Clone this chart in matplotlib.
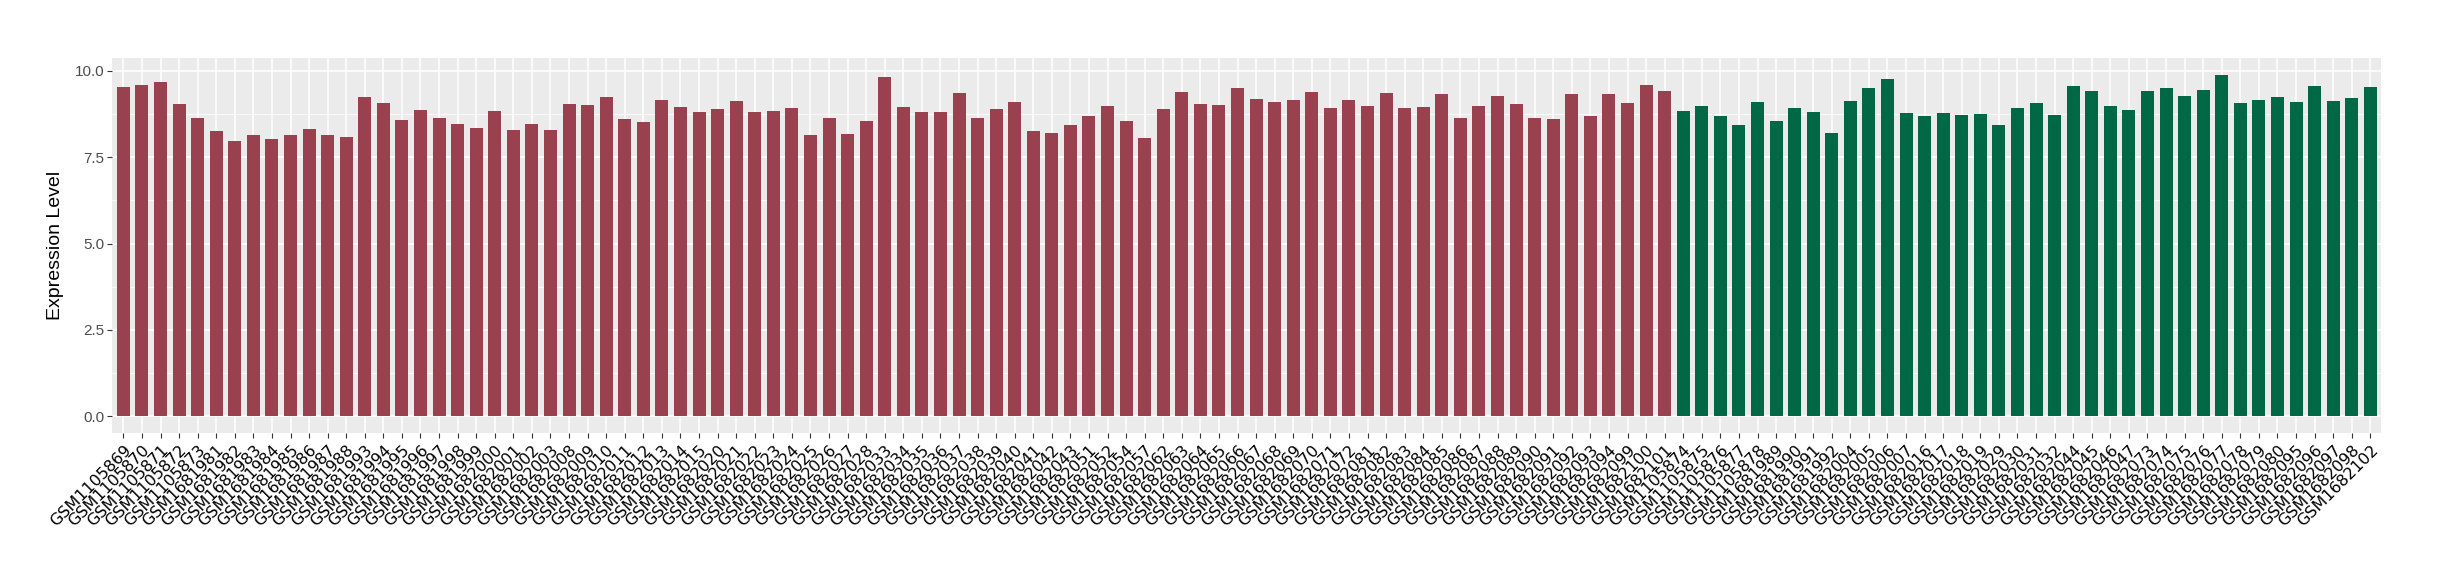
import matplotlib
matplotlib.use("Agg")
import matplotlib.pyplot as plt
import numpy as np

# sample ids, group 1 (red) then group 2 (green)
red_ids = (["GSM11058%d" % i for i in range(69, 74)]
           + ["GSM16819%d" % i for i in range(81, 89)]
           + ["GSM16819%d" % i for i in range(93, 100)]
           + ["GSM16820%02d" % i for i in range(0, 4)]
           + ["GSM16820%02d" % i for i in range(8, 16)]
           + ["GSM16820%02d" % i for i in range(20, 29)]
           + ["GSM16820%02d" % i for i in range(33, 44)]
           + ["GSM1682051", "GSM1682052", "GSM1682054", "GSM1682057"]
           + ["GSM16820%02d" % i for i in range(62, 73)]
           + ["GSM16820%02d" % i for i in range(81, 95)]
           + ["GSM1682099", "GSM1682100", "GSM1682101"])
green_ids = (["GSM11058%d" % i for i in range(74, 79)]
             + ["GSM16819%d" % i for i in range(89, 93)]
             + ["GSM16820%02d" % i for i in range(4, 8)]
             + ["GSM16820%02d" % i for i in range(16, 20)]
             + ["GSM16820%02d" % i for i in range(29, 33)]
             + ["GSM16820%02d" % i for i in range(44, 48)]
             + ["GSM16820%02d" % i for i in range(73, 81)]
             + ["GSM16820%02d" % i for i in range(95, 99)]
             + ["GSM1682102"])

red_vals = [9.54, 9.60, 9.68, 9.05, 8.64, 8.27, 7.98, 8.13, 8.04, 8.13,
            8.33, 8.15, 8.10, 9.25, 9.08, 8.59, 8.88, 8.64, 8.47, 8.36,
            8.85, 8.30, 8.47, 8.30, 9.05, 9.02, 9.25, 8.62, 8.53, 9.16,
            8.96, 8.82, 8.90, 9.13, 8.82, 8.85, 8.93, 8.13, 8.64, 8.18,
            8.56, 9.83, 8.96, 8.82, 8.82, 9.37, 8.64, 8.90, 9.11, 8.27,
            8.21, 8.44, 8.70, 8.99, 8.56, 8.07, 8.90, 9.39, 9.05, 9.02,
            9.51, 9.19, 9.11, 9.16, 9.39, 8.93, 9.16, 8.99, 9.37, 8.93,
            8.96, 9.34, 8.64, 8.99, 9.28, 9.05, 8.64, 8.62, 9.34, 8.70,
            9.34, 9.08, 9.60, 9.42]
green_vals = [8.85, 8.99, 8.70, 8.44, 9.11, 8.56, 8.93, 8.82, 8.21, 9.13,
              9.51, 9.77, 8.79, 8.70, 8.79, 8.73, 8.76, 8.44, 8.93, 9.08,
              8.73, 9.57, 9.42, 8.99, 8.88, 9.42, 9.51, 9.28, 9.45, 9.88,
              9.08, 9.16, 9.25, 9.11, 9.57, 9.13, 9.22, 9.54]

red_col = "#9A4150"
green_col = "#006844"

labels = red_ids + green_ids
vals = red_vals + green_vals
cols = [red_col] * len(red_vals) + [green_col] * len(green_vals)
x = np.arange(len(labels))

fig = plt.figure(figsize=(24.4, 5.8), dpi=100)
ax = fig.add_axes([0.046, 0.253, 0.930, 0.647])
ax.set_facecolor("#EBEBEB")

ax.bar(x, vals, width=0.7, color=cols, zorder=3)

ymax = max(vals)
ax.set_ylim(-0.05 * ymax, 1.05 * ymax)
ax.set_xlim(-0.6, len(labels) - 0.4)
ax.set_yticks([0, 2.5, 5, 7.5, 10])
ax.set_yticklabels(["0.0", "2.5", "5.0", "7.5", "10.0"],
                   family="Liberation Sans", fontsize=11, color="#4D4D4D")
ax.set_yticks([1.25, 3.75, 6.25, 8.75], minor=True)
ax.set_xticks(x)
ax.set_xticklabels(labels, rotation=45, ha="right", va="top",
                   rotation_mode="anchor", family="DejaVu Sans",
                   fontsize=11.5, color="black")

ax.grid(which="major", color="white", linewidth=1.1, zorder=0)
ax.grid(which="minor", axis="y", color="white", linewidth=0.55, zorder=0)
ax.tick_params(which="major", length=3.5, width=0.8, color="#333333")
ax.tick_params(which="minor", length=0)
ax.tick_params(axis="y", pad=2)
ax.tick_params(axis="x", pad=3)
for s in ax.spines.values():
    s.set_visible(False)

ax.set_ylabel("Expression Level", family="Liberation Sans", fontsize=14,
              labelpad=8)

fig.savefig("out.png", dpi=100)
